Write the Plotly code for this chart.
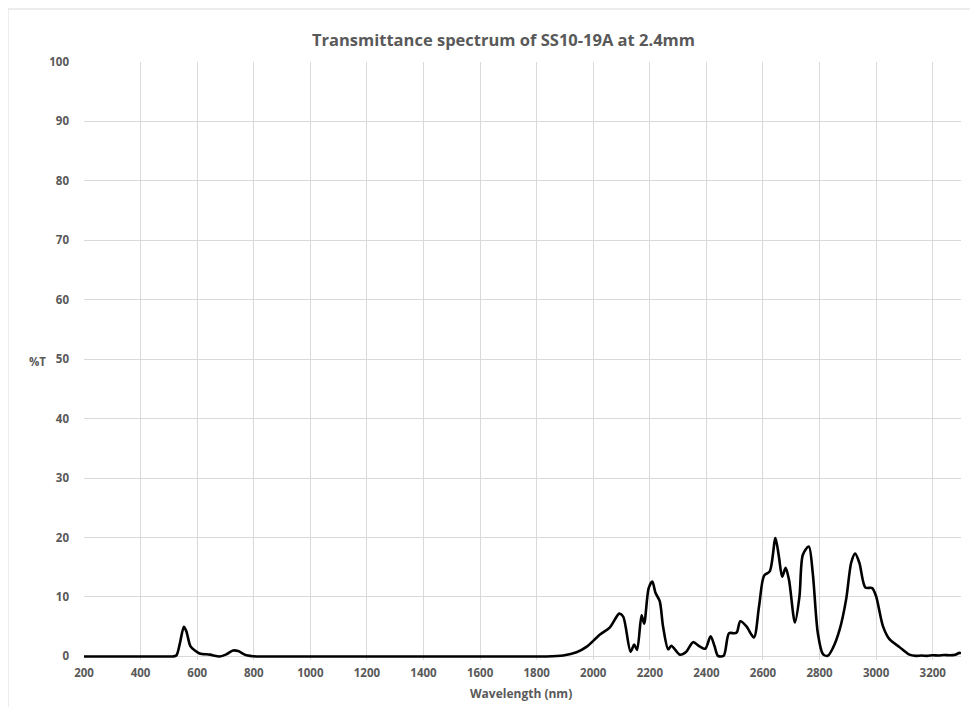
import plotly.graph_objects as go

wavelength_nm = [200, 300, 400, 500, 515, 527, 539, 553, 562, 576, 592, 609, 645, 680, 703, 727,
                 745, 774, 809, 900, 1200, 1500, 1800, 1835, 1894, 1941, 1976, 2024, 2059, 2092,
                 2106, 2132, 2145, 2155, 2171, 2180, 2196, 2209, 2220, 2235, 2247, 2265, 2276,
                 2306, 2329, 2353, 2376, 2396, 2415, 2429, 2441, 2461, 2480, 2500, 2508, 2520,
                 2541, 2568, 2586, 2604, 2624, 2644, 2656, 2668, 2680, 2692, 2713, 2729, 2741,
                 2762, 2776, 2794, 2812, 2829, 2847, 2871, 2894, 2912, 2926, 2941, 2962, 2986,
                 3000, 3024, 3047, 3082, 3118, 3140, 3160, 3180, 3200, 3220, 3240, 3260, 3280,
                 3295, 3300]
transmittance = [0, 0, 0, 0, 0, 0.2, 2.2, 5.0, 4.2, 1.75, 1.0, 0.5, 0.3, 0, 0.35, 1.0,
                 0.9, 0.2, 0, 0, 0, 0, 0, 0, 0.17, 0.7, 1.6, 3.7, 4.9, 7.2,
                 6.7, 0.8, 2.0, 1.1, 6.9, 5.5, 11.5, 12.6, 10.7, 9.3, 5.0, 1.2, 1.8,
                 0.3, 0.8, 2.4, 1.7, 1.3, 3.4, 1.7, 0.1, 0.1, 3.9, 3.9, 4.1, 5.9,
                 5.1, 3.2, 8.4, 13.6, 14.3, 19.9, 16.9, 13.4, 14.9, 12.9, 5.7, 10.1, 17.1,
                 18.5, 14.0, 3.9, 0.4, 0.1, 1.4, 4.5, 9.6, 15.8, 17.3, 15.7, 11.6, 11.5,
                 10.1, 5.1, 2.9, 1.6, 0.3, 0.1, 0.15, 0.1, 0.2, 0.15, 0.25, 0.2, 0.3,
                 0.6, 0.5]

x_ticks = list(range(200, 3201, 200))
y_ticks = list(range(0, 101, 10))

title_text = "Transmittance spectrum of SS10-19A at 2.4mm"
x_title = "Wavelength (nm)"
y_title = "%T"

FONT = "Open Sans, Noto Sans, Arial, sans-serif"
GREY = "#595959"
GRID = "#d9d9d9"

fig = go.Figure()
fig.add_trace(go.Scatter(
    x=wavelength_nm, y=transmittance, mode="lines",
    line=dict(color="#000000", width=2.6, shape="spline", smoothing=0.8),
    showlegend=False, hoverinfo="x+y"))

fig.update_layout(
    width=962, height=699,
    margin=dict(l=76, r=9, t=54, b=47, autoexpand=False),
    paper_bgcolor="white", plot_bgcolor="white",
    font=dict(family=FONT, color=GREY),
    xaxis=dict(range=[200, 3300], tickvals=x_ticks, ticktext=[str(v) for v in x_ticks],
               showgrid=True, gridcolor=GRID, gridwidth=1, zeroline=False,
               showline=False, ticks="", ticklabelstandoff=4,
               tickfont=dict(family=FONT, size=11.5, color=GREY, weight="bold")),
    yaxis=dict(range=[-0.6, 100], tickvals=y_ticks, ticktext=[str(v) for v in y_ticks],
               showgrid=True, gridcolor=GRID, gridwidth=1, zeroline=False,
               showline=False, ticks="", ticklabelstandoff=14,
               tickfont=dict(family=FONT, size=11.5, color=GREY, weight="bold")),
    shapes=[dict(type="rect", xref="paper", yref="paper",
                 x0=-0.0867, x1=1.2, y0=-0.3, y1=1.0886,
                 line=dict(color=GRID, width=1), fillcolor="rgba(0,0,0,0)", layer="below")],
    annotations=[
        dict(text=title_text, xref="paper", yref="paper", x=0.478, y=1.0368,
             xanchor="center", yanchor="middle", showarrow=False,
             font=dict(family=FONT, size=16.5, color=GREY, weight="bold")),
        dict(text=x_title, xref="paper", yref="paper", x=0.498, y=-0.0552,
             xanchor="center", yanchor="middle", showarrow=False,
             font=dict(family=FONT, size=12, color=GREY, weight="bold")),
        dict(text=y_title, xref="paper", yref="paper", x=-0.0525, y=0.5,
             xanchor="center", yanchor="middle", showarrow=False,
             font=dict(family=FONT, size=11.5, color=GREY, weight="bold")),
    ],
)

fig.write_html("out.html")
